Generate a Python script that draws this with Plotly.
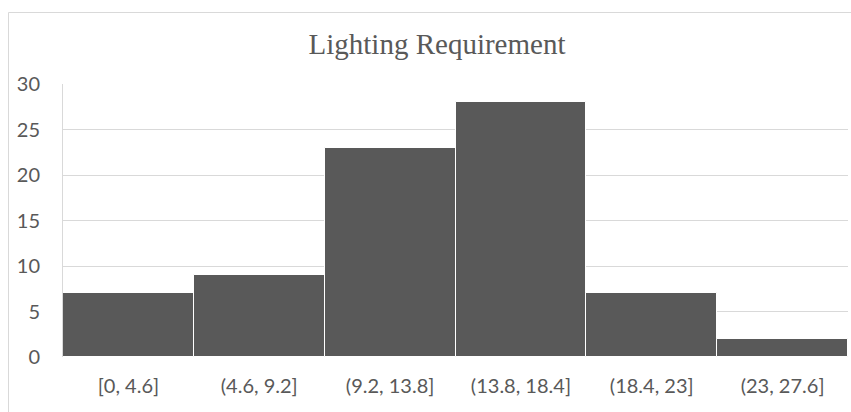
import plotly.graph_objects as go

categories = ["[0, 4.6]", "(4.6, 9.2]", "(9.2, 13.8]", "(13.8, 18.4]", "(18.4, 23]", "(23, 27.6]"]
counts = [7, 9, 23, 28, 7, 2]
y_ticks = [0, 5, 10, 15, 20, 25, 30]

W, H = 851, 412
L, R, T, B = 63, 3, 84, 55
pw = W - L - R
ph = H - T - B

def px_x(x):
    return (x - L) / pw

def px_y(y):
    return (H - B - y) / ph

fig = go.Figure(go.Bar(
    x=categories, y=counts, width=1.0,
    marker=dict(color="#595959", line=dict(color="#ffffff", width=1)),
))

fig.update_layout(
    width=W, height=H,
    margin=dict(l=L, r=R, t=T, b=B),
    paper_bgcolor="white", plot_bgcolor="white",
    showlegend=False,
    bargap=0,
    title=dict(text="Lighting Requirement", x=px_x(437), xref="paper", xanchor="center",
               y=1 - 44 / H, yanchor="middle",
               font=dict(family="Liberation Serif", size=29, color="#595959")),
    xaxis=dict(range=[-0.5, 5.5], showgrid=False, zeroline=False, showline=False,
               ticks="", tickfont=dict(family="Lato", size=20, color="#595959"),
               ticklabelstandoff=15),
    yaxis=dict(range=[0, 30], tickvals=y_ticks, showgrid=True, gridcolor="#d9d9d9",
               gridwidth=1, zeroline=False, showline=True, linecolor="#d9d9d9", linewidth=1,
               ticks="", tickfont=dict(family="Lato", size=20, color="#595959"),
               ticklabelstandoff=18),
    shapes=[dict(type="rect", xref="paper", yref="paper",
                 x0=px_x(8.5), x1=px_x(870), y0=px_y(430), y1=px_y(12.5),
                 line=dict(color="#d9d9d9", width=1), fillcolor="rgba(0,0,0,0)", layer="below")],
)

fig.write_html("out.html",
               config={"displayModeBar": False},
               post_script="document.body.style.margin='0';document.body.style.overflow='hidden';")
